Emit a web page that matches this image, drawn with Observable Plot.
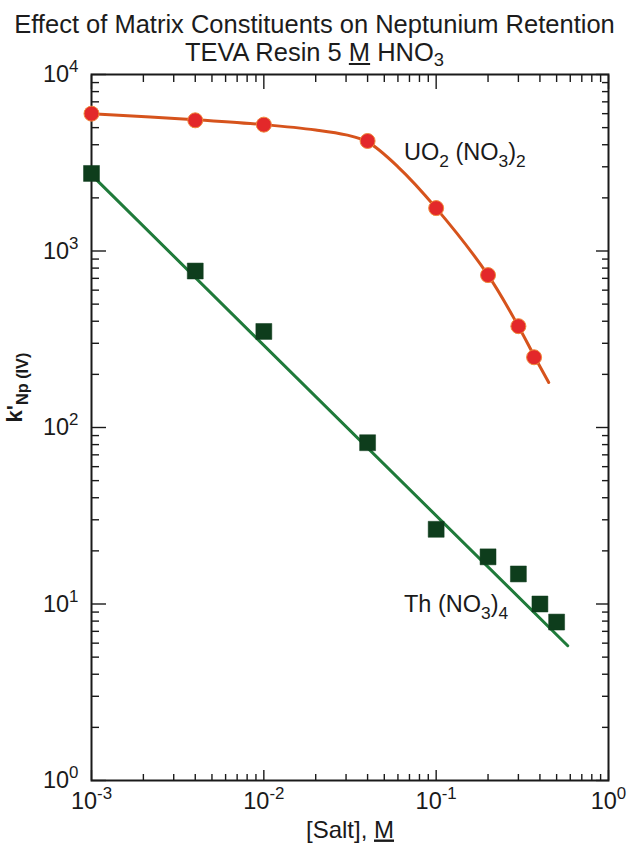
<!DOCTYPE html>
<html><head><meta charset="utf-8">
<script src="https://cdn.jsdelivr.net/npm/d3@7"></script>
<script src="https://cdn.jsdelivr.net/npm/@observablehq/plot@0.6"></script>
<style>
body{margin:0;background:#fff;}
#title{width:629px;height:50px;text-align:center;color:#1c1c1c;font-family:"Liberation Sans",Arial,sans-serif;font-size:25.5px;line-height:28px;padding-top:10px;box-sizing:border-box;overflow:visible;white-space:nowrap;}
#title sub{font-size:0.72em;vertical-align:-0.25em;line-height:0;}
#chart svg{display:block;}
</style></head><body>
<div id="title"><div>Effect of Matrix Constituents on Neptunium Retention</div><div>TEVA Resin 5 <u>M</u> HNO<sub>3</sub></div></div>
<div id="chart"></div>
<script>
// ---- data ----
const uoX = [0.001, 0.004, 0.01, 0.04, 0.1, 0.2, 0.3, 0.37];
const uoY = [6000, 5500, 5200, 4200, 1750, 730, 375, 250];
const uoFitX = [0.001, 0.004, 0.01, 0.02, 0.03, 0.04, 0.06, 0.1, 0.2, 0.3, 0.37, 0.45];
const uoFitY = [6000, 5550, 5200, 4850, 4550, 4150, 3000, 1750, 730, 375, 255, 180];
const thX = [0.001, 0.004, 0.01, 0.04, 0.1, 0.2, 0.3, 0.4, 0.5];
const thY = [2750, 770, 350, 82, 26.5, 18.5, 14.8, 10, 7.9];
const thFitX = [0.001, 0.58];
const thFitY = [2700, 5.8];
const seriesLabels = ["UO_{2} (NO_{3})_{2}", "Th (NO_{3})_{4}"];
const labelX = [0.065, 0.065];
const labelY = [3600, 10];
const xTicks = [1e-3, 1e-2, 1e-1, 1];
const xTickLabels = ["10^{-3}", "10^{-2}", "10^{-1}", "10^{0}"];
const yTicks = [1, 10, 100, 1000, 10000];
const yTickLabels = ["10^{0}", "10^{1}", "10^{2}", "10^{3}", "10^{4}"];
const xTitle = "[Salt], ~{M}";
const yTitle = "k'_{Np (IV)}";

// minor tick positions (2..9 within each decade)
const minorOf = (lo, hi) => { const a = []; for (let d = lo; d < hi; d++) for (let k = 2; k <= 9; k++) a.push(k * Math.pow(10, d)); return a; };
const xMinor = minorOf(-3, 0);
const yMinor = minorOf(0, 4);

const uo = uoX.map((x, i) => ({x, y: uoY[i]}));
const uoFit = uoFitX.map((x, i) => ({x, y: uoFitY[i]}));
const th = thX.map((x, i) => ({x, y: thY[i]}));
const thFit = thFitX.map((x, i) => ({x, y: thFitY[i]}));
const labels = seriesLabels.map((t, i) => ({t, x: labelX[i], y: labelY[i]}));
const xLab = new Map(xTicks.map((t, i) => [t, xTickLabels[i]]));
const yLab = new Map(yTicks.map((t, i) => [t, yTickLabels[i]]));

const ink = "#1a1a1a";
const chart = Plot.plot({
  width: 629, height: 804,
  marginLeft: 91, marginRight: 21, marginTop: 24, marginBottom: 74,
  style: {fontFamily: "'Liberation Sans', Arial, sans-serif", color: ink, background: "transparent", overflow: "visible"},
  x: {type: "log", domain: [1e-3, 1]},
  y: {type: "log", domain: [1, 1e4]},
  marks: [
    // inward ticks on all four sides
    Plot.axisX(xTicks, {anchor: "bottom", tickSize: -10, fill: "none", stroke: ink, strokeWidth: 1.4}),
    Plot.axisX(xMinor, {anchor: "bottom", tickSize: -6, fill: "none", stroke: ink, strokeWidth: 1.4}),
    Plot.axisX(xTicks, {anchor: "top", tickSize: -14, fill: "none", stroke: ink, strokeWidth: 1.4}),
    Plot.axisX(xMinor, {anchor: "top", tickSize: -7, fill: "none", stroke: ink, strokeWidth: 1.4}),
    Plot.axisY(yTicks, {anchor: "left", tickSize: -15, fill: "none", stroke: ink, strokeWidth: 1.4}),
    Plot.axisY(yMinor, {anchor: "left", tickSize: -8, fill: "none", stroke: ink, strokeWidth: 1.4}),
    Plot.axisY(yTicks, {anchor: "right", tickSize: -13, fill: "none", stroke: ink, strokeWidth: 1.4}),
    Plot.axisY(yMinor, {anchor: "right", tickSize: -7, fill: "none", stroke: ink, strokeWidth: 1.4}),
    // tick labels
    Plot.axisX(xTicks, {anchor: "bottom", tickSize: 0, tickPadding: 12, tickFormat: d => xLab.get(d), fontSize: 23.5, fill: ink, label: null}),
    Plot.axisY(yTicks, {anchor: "left", tickSize: 0, tickPadding: 13, tickFormat: d => yLab.get(d), fontSize: 23.5, fill: ink, label: null}),
    Plot.frame({stroke: ink, strokeWidth: 2}),
    // axis titles
    Plot.text([xTitle], {text: d => d, frameAnchor: "bottom", dy: 57, fontSize: 24, fill: ink}),
    Plot.text([yTitle], {text: d => d, frameAnchor: "left", rotate: -90, dx: -77, dy: -5, fontSize: 22, fontWeight: "bold", fill: ink}),
    // UO2(NO3)2
    Plot.line(uoFit, {x: "x", y: "y", curve: "catmull-rom", stroke: "#d6531c", strokeWidth: 3}),
    Plot.dot(uo, {x: "x", y: "y", r: 7.5, fill: "#e3282a", stroke: "#f08a3c", strokeWidth: 1}),
    // Th(NO3)4
    Plot.line(thFit, {x: "x", y: "y", stroke: "#1f7a3a", strokeWidth: 3}),
    Plot.dot(th, {x: "x", y: "y", symbol: "square", r: 9, fill: "#0e3d1c", stroke: "#0e3d1c", strokeWidth: 0.5}),
    // series labels
    Plot.text(labels, {x: "x", y: "y", text: "t", textAnchor: "start", fontSize: 23.5, fill: ink})
  ]
});
document.getElementById("chart").appendChild(chart);

// rich text: _{sub}, ^{sup}, ~{underline}
function richify(root) {
  root.querySelectorAll("text").forEach(t => {
    const s = t.textContent;
    if (!/[_^~]\{/.test(s)) return;
    const fs = parseFloat(getComputedStyle(t).fontSize);
    while (t.firstChild) t.removeChild(t.firstChild);
    let shift = 0;
    const add = (txt, kind) => {
      if (!txt) return;
      const ts = document.createElementNS("http://www.w3.org/2000/svg", "tspan");
      let target = 0;
      if (kind === "_") { target = fs * 0.3; ts.setAttribute("font-size", fs * 0.74); }
      else if (kind === "^") { target = -fs * 0.42; ts.setAttribute("font-size", fs * 0.72); }
      else if (kind === "~") ts.setAttribute("text-decoration", "underline");
      if (target - shift !== 0) ts.setAttribute("dy", target - shift);
      shift = target;
      ts.textContent = txt;
      t.appendChild(ts);
    };
    const re = /([_^~])\{([^}]*)\}/g;
    let last = 0, m;
    while ((m = re.exec(s))) { add(s.slice(last, m.index), ""); add(m[2], m[1]); last = re.lastIndex; }
    add(s.slice(last), "");
  });
}
richify(chart);
</script>
</body></html>
